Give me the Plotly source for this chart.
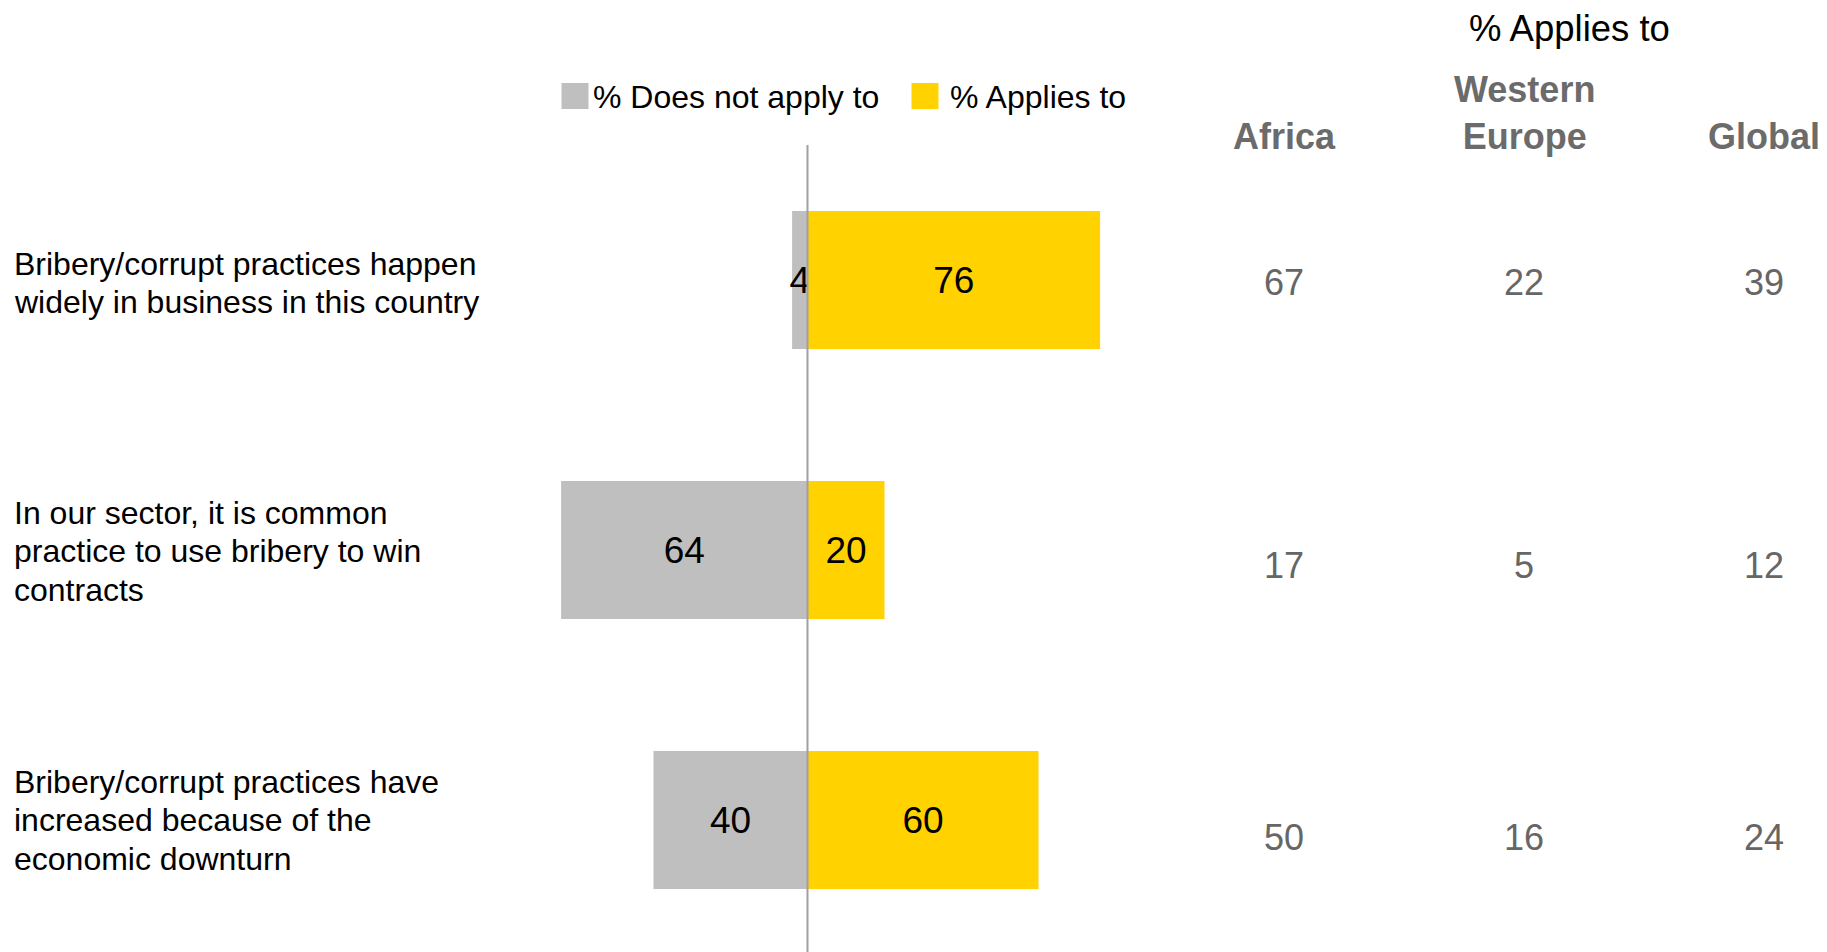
import plotly.graph_objects as go

# ---- data ----
statements = [
    "Bribery/corrupt practices happen<br>widely in business in this country",
    "In our sector, it is common<br>practice to use bribery to win<br>contracts",
    "Bribery/corrupt practices have<br>increased because of the<br>economic downturn",
]
does_not_apply = [4, 64, 40]
applies = [76, 20, 60]
region_names = ["Africa", "Western<br>Europe", "Global"]
africa = [67, 17, 50]
western_europe = [22, 5, 16]
global_vals = [39, 12, 24]
legend_names = ["% Does not apply to", "% Applies to"]
header_title = "% Applies to"

# ---- style ----
W, H = 1827, 952
GRAY = "#BFBFBF"
YELLOW = "#FFD200"
FONT = "Arial, Liberation Sans, sans-serif"
ZERO_PX = 807.5
PX_PER_UNIT = 3.85
ROW0_PX = 280.0
ROW_STEP = 270.0

def px_x(px):
    return px / W

def px_y(py):
    return 1 - py / H

idx = list(range(len(statements)))

fig = go.Figure()
fig.add_trace(go.Bar(
    y=idx, x=[-v for v in does_not_apply], orientation="h",
    marker=dict(color=GRAY, line=dict(width=0)),
    width=0.511, name=legend_names[0],
    text=[str(v) for v in does_not_apply], textposition="inside",
    insidetextanchor="middle", constraintext="none",
    textfont=dict(family=FONT, size=37, color="black"),
    hoverinfo="skip", showlegend=False,
))
fig.add_trace(go.Bar(
    y=idx, x=applies, orientation="h",
    marker=dict(color=YELLOW, line=dict(width=0)),
    width=0.511, name=legend_names[1],
    text=[str(v) for v in applies], textposition="inside",
    insidetextanchor="middle", constraintext="none",
    textfont=dict(family=FONT, size=37, color="black"),
    hoverinfo="skip", showlegend=False,
))

annotations = []
# statement labels, one annotation per line with 38.5px spacing
LINE_H = 38.5
label_shift = [3, 1, 0]
for i, s in enumerate(statements):
    lines = s.split("<br>")
    n = len(lines)
    for k, ln in enumerate(lines):
        off = (k - (n - 1) / 2) * LINE_H
        annotations.append(dict(
            x=px_x(12), xref="paper", y=i, yref="y",
            text=ln, showarrow=False, xanchor="left", yanchor="middle",
            yshift=-off - label_shift[i], font=dict(family=FONT, size=32, color="black"),
        ))

# region value columns
col_x = [1284, 1524, 1764]
row_shift = [2.5, 15.5, 17.5]
for cx, vals in zip(col_x, [africa, western_europe, global_vals]):
    for i, v in enumerate(vals):
        annotations.append(dict(
            x=px_x(cx), xref="paper", y=i, yref="y", text=str(v),
            showarrow=False, xanchor="center", yanchor="middle",
            yshift=-row_shift[i], font=dict(family=FONT, size=36, color="#666666"),
        ))

# region headers
for cx, name in zip(col_x, region_names):
    annotations.append(dict(
        x=px_x(cx), xref="paper", y=px_y(137), yref="paper",
        text="<b>" + name + "</b>", showarrow=False, xanchor="center",
        yanchor="middle" if "<br>" not in name else "bottom",
        yshift=0 if "<br>" not in name else -22,
        font=dict(family=FONT, size=36, color="#6B6B6B"),
    ))
annotations.append(dict(
    x=px_x(1569), xref="paper", y=px_y(28), yref="paper", text=header_title,
    showarrow=False, xanchor="center", yanchor="middle",
    font=dict(family=FONT, size=36.5, color="black"),
))

# manual legend
shapes = []
leg_sq = [(561.5, GRAY), (911.5, YELLOW)]
leg_txt_x = [591, 947.5]
for (sx, col), tx, name in zip(leg_sq, leg_txt_x, legend_names):
    shapes.append(dict(type="rect", xref="paper", yref="paper",
                       x0=px_x(sx), x1=px_x(sx + 27), y0=px_y(83), y1=px_y(109),
                       fillcolor=col, line=dict(width=0)))
    annotations.append(dict(
        x=px_x(tx), xref="paper", y=px_y(97), yref="paper", text=name,
        showarrow=False, xanchor="left", yanchor="middle",
        font=dict(family=FONT, size=32, color="black"),
    ))

# zero line
shapes.append(dict(type="line", xref="x", yref="paper", x0=0, x1=0,
                   y0=0, y1=px_y(145), line=dict(color="#A0A0A0", width=2)))

fig.update_layout(
    width=W, height=H, margin=dict(l=0, r=0, t=0, b=0),
    paper_bgcolor="white", plot_bgcolor="white",
    barmode="relative", showlegend=False,
    xaxis=dict(visible=False, range=[-ZERO_PX / PX_PER_UNIT, (W - ZERO_PX) / PX_PER_UNIT],
               fixedrange=True),
    yaxis=dict(visible=False,
               range=[(H - ROW0_PX) / ROW_STEP, -ROW0_PX / ROW_STEP], fixedrange=True),
    annotations=annotations, shapes=shapes,
    font=dict(family=FONT),
)

fig.write_html("out.html", config={"displayModeBar": False},
               post_script="document.body.style.margin='0';document.body.style.overflow='hidden';")
